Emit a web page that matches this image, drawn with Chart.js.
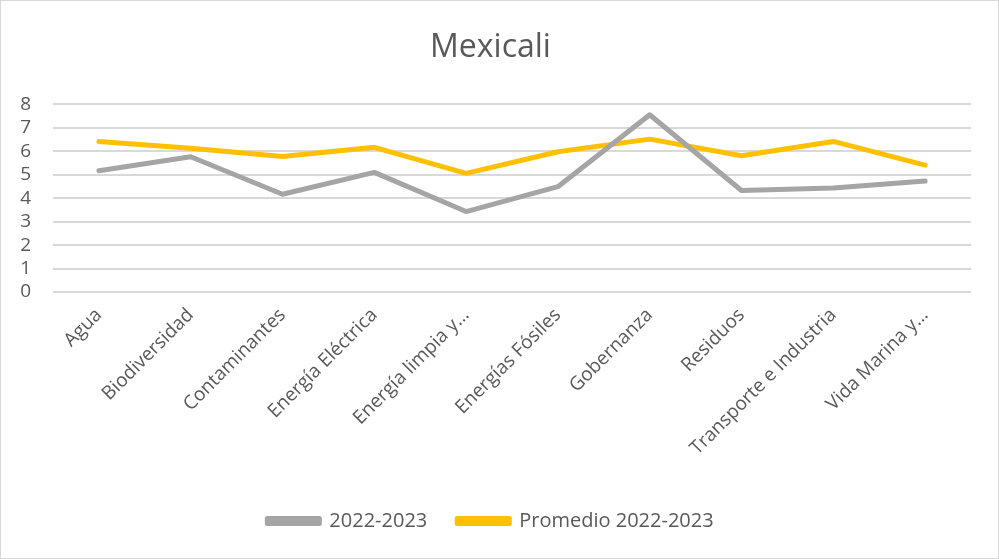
<!DOCTYPE html>
<html><head><meta charset="utf-8">
<script src="https://cdn.jsdelivr.net/npm/chart.js@4/dist/chart.umd.min.js"></script>
<style>html,body{margin:0;padding:0;background:#fff}#wrap{width:999px;height:559px;position:relative}</style>
</head><body><div id="wrap"><canvas id="c" width="999" height="559"></canvas></div>
<script>
const categories = ["Agua","Biodiversidad","Contaminantes","Energía Eléctrica","Energía limpia y…","Energías Fósiles","Gobernanza","Residuos","Transporte e Industria","Vida Marina y…"];
const serie2022 = [5.17,5.77,4.17,5.1,3.43,4.49,7.56,4.33,4.44,4.73];
const promedio = [6.42,6.13,5.78,6.17,5.06,5.98,6.52,5.81,6.42,5.41];
const yTicks = [0,1,2,3,4,5,6,7,8];

const FONT = "'Open Sans', sans-serif";
const TXT = '#595959';
const borderPlugin = {id:'border', afterDraw(c){const x=c.ctx;x.save();x.strokeStyle='#D9D9D9';x.lineWidth=1;x.strokeRect(0.5,0.5,c.width-1,c.height-1);x.restore();}};
new Chart(document.getElementById('c'), {
  type:'line',
  data:{labels:categories,datasets:[
    {label:'2022-2023',data:serie2022,borderColor:'#A5A5A5',backgroundColor:'#A5A5A5',borderWidth:5,pointRadius:0,tension:0,borderCapStyle:'round',borderJoinStyle:'round'},
    {label:'Promedio 2022-2023',data:promedio,borderColor:'#FFC000',backgroundColor:'#FFC000',borderWidth:5,pointRadius:0,tension:0,borderCapStyle:'round',borderJoinStyle:'round'}
  ]},
  options:{
    responsive:false,animation:false,devicePixelRatio:1,
    layout:{padding:{left:10,right:28,top:0,bottom:18}},
    plugins:{
      title:{display:true,text:'Mexicali',color:TXT,font:{family:FONT,size:32,weight:'normal'},padding:{top:29,bottom:37}},
      legend:{position:'bottom',labels:{color:TXT,font:{family:FONT,size:20},boxWidth:52,boxHeight:5,padding:30}},
      tooltip:{enabled:false}
    },
    scales:{
      x:{offset:true,grid:{display:false},border:{display:false},
         ticks:{color:TXT,font:{family:FONT,size:19},maxRotation:45,minRotation:45,autoSkip:false,padding:4},
         afterFit(s){s.height=189;}},
      y:{min:0,max:8,grid:{color:'#D9D9D9',lineWidth:2,drawTicks:false},border:{display:false},
         afterBuildTicks(s){s.ticks=yTicks.map(v=>({value:v}));},
         ticks:{color:TXT,font:{family:FONT,size:19},padding:22,autoSkip:false,stepSize:1},
         afterFit(s){s.width=43;}}
    }
  },
  plugins:[borderPlugin]
});
</script></body></html>
